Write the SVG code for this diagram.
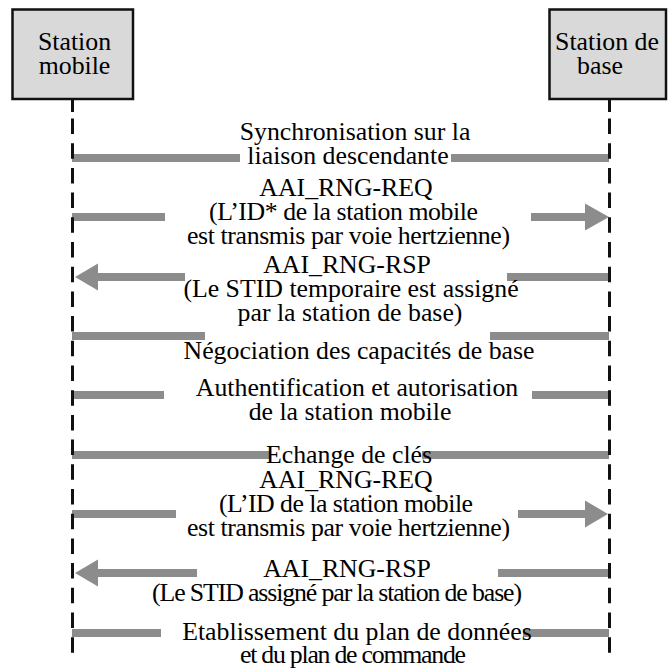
<svg xmlns="http://www.w3.org/2000/svg" width="668" height="668" viewBox="0 0 668 668">
<style>
  text { font-family: "Liberation Serif", "Times New Roman", serif; font-size: 25.8px; fill: #000; text-anchor: middle; }
  .box { fill: #d9d9d9; stroke: #111; stroke-width: 2.5; }
  .life { stroke: #111; stroke-width: 3; fill: none; }
  .dash { stroke-dasharray: 15.5 9.2; }
  .bar { stroke: #8c8c8c; stroke-width: 8; fill: none; }
  .head { fill: #8c8c8c; stroke: none; }
</style>
<rect width="668" height="668" fill="#ffffff"/>

<g id="connectors">
  <!-- Synchronisation -->
  <line class="bar" x1="72" y1="158" x2="240" y2="158"/>
  <line class="bar" x1="451" y1="158" x2="609" y2="158"/>
  <!-- AAI_RNG-REQ 1 -->
  <line class="bar" x1="72" y1="217" x2="165" y2="217"/>
  <line class="bar" x1="531" y1="217" x2="587" y2="217"/>
  <polygon class="head" points="585,203.5 609,217 585,230.5"/>
  <!-- AAI_RNG-RSP 1 -->
  <polygon class="head" points="75,277 98,263.5 98,290.5"/>
  <line class="bar" x1="96" y1="277" x2="185" y2="277"/>
  <line class="bar" x1="507" y1="277" x2="609" y2="277"/>
  <!-- Negociation -->
  <line class="bar" x1="72" y1="336" x2="205" y2="336"/>
  <line class="bar" x1="490" y1="336" x2="609" y2="336"/>
  <!-- Authentification -->
  <line class="bar" x1="72" y1="395" x2="164" y2="395"/>
  <line class="bar" x1="532" y1="395" x2="609" y2="395"/>
  <!-- Echange de cles -->
  <line class="bar" x1="72" y1="455" x2="270" y2="455"/>
  <line class="bar" x1="422" y1="455" x2="609" y2="455"/>
  <!-- AAI_RNG-REQ 2 -->
  <line class="bar" x1="72" y1="514" x2="176" y2="514"/>
  <line class="bar" x1="518" y1="514" x2="587" y2="514"/>
  <polygon class="head" points="585,500.5 608,514 585,527.5"/>
  <!-- AAI_RNG-RSP 2 -->
  <polygon class="head" points="75,573 98,559.5 98,586.5"/>
  <line class="bar" x1="96" y1="573" x2="197" y2="573"/>
  <line class="bar" x1="498" y1="573" x2="609" y2="573"/>
  <!-- Etablissement -->
  <line class="bar" x1="72" y1="633" x2="161" y2="633"/>
  <line class="bar" x1="523" y1="633" x2="609" y2="633"/>
</g>

<g id="station-mobile">
  <line class="life" x1="72.5" y1="99" x2="72.5" y2="112"/>
  <line class="life dash" x1="72.5" y1="118.5" x2="72.5" y2="655"/>
  <rect class="box" x="12.5" y="9.5" width="120.5" height="89.5"/>
  <text x="74.5" y="50">Station</text>
  <text x="74.5" y="74">mobile</text>
</g>

<g id="station-de-base">
  <line class="life" x1="609.5" y1="99" x2="609.5" y2="112"/>
  <line class="life dash" x1="609.5" y1="118.5" x2="609.5" y2="655"/>
  <rect class="box" x="549.5" y="9.5" width="116.5" height="89.5"/>
  <text x="607" y="50">Station de</text>
  <text x="600" y="74">base</text>
</g>

<g id="labels">
  <text x="355" y="140">Synchronisation sur la</text>
  <text x="348" y="164">liaison descendante</text>

  <text x="346" y="196">AAI_RNG-REQ</text>
  <text x="343.5" y="220" textLength="269" lengthAdjust="spacing">(L’ID* de la station mobile</text>
  <text x="348.5" y="244" textLength="323" lengthAdjust="spacing">est transmis par voie hertzienne)</text>

  <text x="347" y="273">AAI_RNG-RSP</text>
  <text x="351" y="297">(Le STID temporaire est assigné</text>
  <text x="350" y="321">par la station de base)</text>

  <text x="359" y="359">Négociation des capacités de base</text>

  <text x="357" y="396">Authentification et autorisation</text>
  <text x="350" y="420">de la station mobile</text>

  <text x="349" y="463">Echange de clés</text>

  <text x="346" y="488">AAI_RNG-REQ</text>
  <text x="346" y="512" textLength="254" lengthAdjust="spacing">(L’ID de la station mobile</text>
  <text x="348.5" y="536" textLength="323" lengthAdjust="spacing">est transmis par voie hertzienne)</text>

  <text x="347" y="577">AAI_RNG-RSP</text>
  <text x="337" y="601" textLength="370" lengthAdjust="spacing">(Le STID assigné par la station de base)</text>

  <text x="357" y="640">Etablissement du plan de données</text>
  <text x="353" y="663" textLength="226" lengthAdjust="spacing">et du plan de commande</text>
</g>
</svg>
